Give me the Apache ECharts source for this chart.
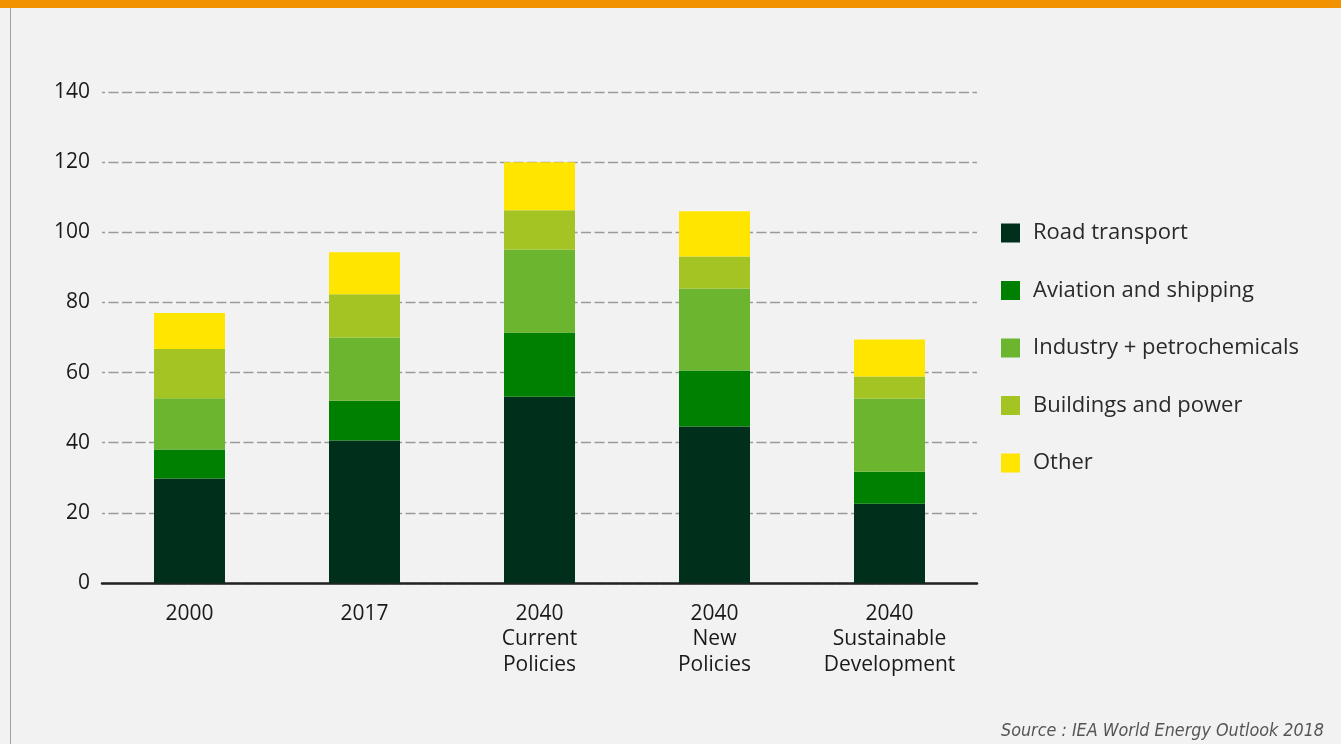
<!DOCTYPE html>
<html>
<head>
<meta charset="utf-8">
<script src="https://cdn.jsdelivr.net/npm/echarts@6/dist/echarts.min.js"></script>
<style>
html,body{margin:0;padding:0;background:#f2f2f2;}
#wrap{position:relative;width:1341px;height:744px;background:#f2f2f2;overflow:hidden;}
#band{position:absolute;left:0;top:0;width:1341px;height:8px;background:#f39200;}
#border{position:absolute;left:10px;top:8px;width:1px;height:736px;background:#a0a0a0;}
#chart{position:absolute;left:0;top:0;width:1341px;height:744px;}
</style>
</head>
<body>
<div id="wrap">
<div id="band"></div>
<div id="border"></div>
<div id="chart"></div>
</div>
<script>
const categories = ['2000', '2017', '2040\nCurrent\nPolicies', '2040\nNew\nPolicies', '2040\nSustainable\nDevelopment'];
const seriesNames = ['Road transport', 'Aviation and shipping', 'Industry + petrochemicals', 'Buildings and power', 'Other'];
const roadTransport = [29.8, 40.6, 53.1, 44.6, 22.6];
const aviationShipping = [8.3, 11.4, 18.3, 16.0, 9.1];
const industryPetrochem = [14.6, 18.0, 23.7, 23.4, 20.9];
const buildingsPower = [14.0, 12.3, 11.2, 9.1, 6.3];
const other = [10.3, 12.0, 13.7, 12.9, 10.5];
const yTicks = [0, 20, 40, 60, 80, 100, 120, 140];
const colors = ['#00301c', '#008000', '#6cb52e', '#a3c423', '#ffe500'];
const values = [roadTransport, aviationShipping, industryPetrochem, buildingsPower, other];

const chart = echarts.init(document.getElementById('chart'), null, {renderer: 'canvas'});
const font = '"Open Sans", "Noto Sans", sans-serif';
chart.setOption({
  animation: false,
  backgroundColor: 'transparent',
  textStyle: {fontFamily: font},
  grid: {left: 102, right: 364, top: 92, bottom: 161, containLabel: false},
  legend: {
    orient: 'vertical',
    left: 1001,
    top: 222,
    padding: 0,
    itemWidth: 19,
    itemHeight: 19,
    itemGap: 35.5,
    icon: 'rect',
    textStyle: {fontSize: 22, color: '#2a2a2a', fontFamily: font, padding: [0, 0, 0, 8]},
    data: seriesNames
  },
  xAxis: {
    type: 'category',
    data: categories,
    axisLine: {show: true, lineStyle: {color: '#222', width: 2.5}},
    axisTick: {show: false},
    axisLabel: {fontSize: 21, color: '#1a1a1a', lineHeight: 25.5, margin: 18, fontFamily: font, interval: 0}
  },
  yAxis: {
    type: 'value',
    min: yTicks[0],
    max: yTicks[yTicks.length - 1],
    interval: 20,
    axisLine: {show: false},
    axisTick: {show: false},
    axisLabel: {fontSize: 21, color: '#1a1a1a', margin: 12, fontFamily: font},
    splitLine: {show: true, lineStyle: {color: '#9a9a9a', width: 1.4, type: [10, 3.5], dashOffset: 7}}
  },
  series: seriesNames.map((n, i) => ({
    name: n,
    type: 'bar',
    stack: 'total',
    barWidth: 71,
    itemStyle: {color: colors[i]},
    data: values[i]
  })),
  graphic: [{
    type: 'text',
    right: 17,
    top: 722,
    style: {text: 'Source : IEA World Energy Outlook 2018', font: 'italic 17.8px "DejaVu Sans Condensed", "Liberation Sans Narrow", sans-serif', fill: '#555'}
  }]
});
</script>
</body>
</html>
